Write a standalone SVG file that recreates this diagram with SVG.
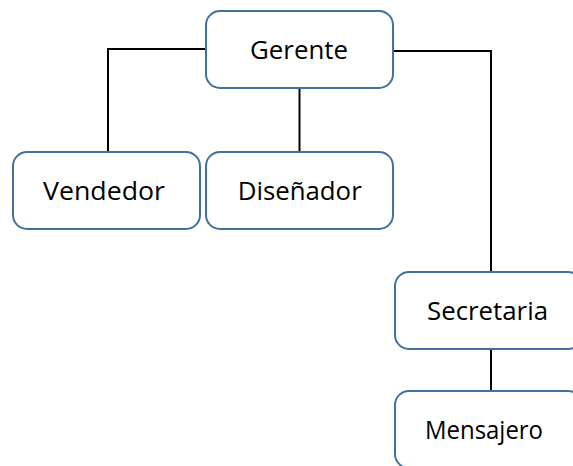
<svg xmlns="http://www.w3.org/2000/svg" width="573" height="466" viewBox="0 0 573 466">
<style>
.box{fill:#ffffff;stroke:#41719c;stroke-width:2}
.lbl{font-family:"Open Sans","Liberation Sans",Arial,sans-serif;font-size:26px;fill:#000000;text-anchor:middle}
.con{fill:none;stroke:#000000;stroke-width:2}
</style>
<rect width="573" height="466" fill="#ffffff"/>
<g id="connectors">
<polyline class="con" points="206,49 108,49 108,152"/>
<line class="con" x1="299.5" y1="88" x2="299.5" y2="152"/>
<polyline class="con" points="393,51 491,51 491,272"/>
<line class="con" x1="491" y1="349" x2="491" y2="391"/>
</g>
<g id="gerente">
<rect class="box" x="206" y="11" width="187" height="77" rx="14"/>
<text class="lbl" x="299" y="59" textLength="98" lengthAdjust="spacingAndGlyphs">Gerente</text>
</g>
<g id="vendedor">
<rect class="box" x="13" y="152" width="187" height="77" rx="14"/>
<text class="lbl" x="104" y="200" textLength="122" lengthAdjust="spacingAndGlyphs">Vendedor</text>
</g>
<g id="disenador">
<rect class="box" x="206" y="152" width="187" height="77" rx="14"/>
<text class="lbl" x="299.7" y="200" textLength="124" lengthAdjust="spacingAndGlyphs">Diseñador</text>
</g>
<g id="secretaria">
<rect class="box" x="395" y="272" width="187" height="77" rx="14"/>
<text class="lbl" x="487.5" y="320" textLength="121" lengthAdjust="spacingAndGlyphs">Secretaria</text>
</g>
<g id="mensajero">
<rect class="box" x="395" y="391" width="187" height="77" rx="14"/>
<text class="lbl" x="484" y="439" textLength="118" lengthAdjust="spacingAndGlyphs">Mensajero</text>
</g>
</svg>
